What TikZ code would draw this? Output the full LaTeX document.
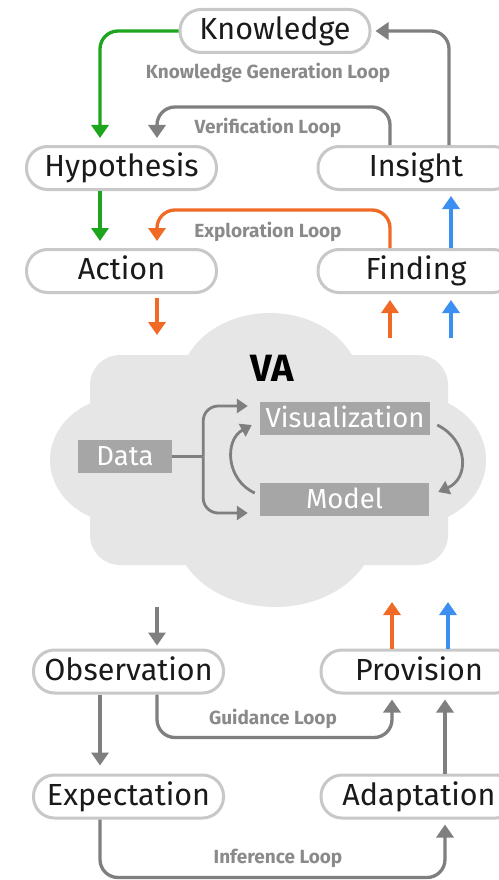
\documentclass[tikz,border=0pt]{standalone}
\usepackage{fontspec}
\setmainfont{Fira Sans}
\usetikzlibrary{arrows.meta,calc}
\definecolor{pillgray}{HTML}{C8C8C8}
\definecolor{linegray}{HTML}{7F7F7F}
\definecolor{labelgray}{HTML}{8A8A8A}
\definecolor{cloudgray}{HTML}{E6E6E6}
\definecolor{boxgray}{HTML}{A6A6A6}
\definecolor{loopgreen}{HTML}{1EA51E}
\definecolor{looporange}{HTML}{F06A25}
\definecolor{loopblue}{HTML}{3B8FF0}
\definecolor{textblack}{HTML}{1A1A1A}
\begin{document}
\begin{tikzpicture}[x=1pt,y=-1pt,
  pill/.style={draw=pillgray, line width=3pt, fill=white, rounded corners=21pt,
    minimum height=43pt, inner sep=0pt, text=textblack,
    font=\fontsize{30.5}{32}\selectfont, text height=21pt, text depth=4pt},
  leftpill/.style={pill, minimum width=190pt},
  rightpill/.style={pill, minimum width=196pt},
  vabox/.style={fill=boxgray, text=white, inner sep=0pt, minimum height=33pt,
    font=\fontsize{27.5}{29}\selectfont, text height=19pt, text depth=1pt},
  arr/.style={line width=3.3pt, rounded corners=18pt,
    -{Triangle[length=13pt,width=17pt]}},
  innerarr/.style={draw=linegray, line width=2.8pt, rounded corners=15pt,
    -{Triangle[length=11pt,width=14pt]}},
  looplabel/.style={text=labelgray, font=\bfseries\fontsize{19}{21}\selectfont}
]
\useasboundingbox (0,0) rectangle (498,880);
\fill[white] (0,0) rectangle (498,880);

% the VA cloud
\begin{scope}[cloudgray]
  \fill[rounded corners=30pt] (90,355) rectangle (448,565);
  \fill (125,460) ellipse [x radius=75pt, y radius=64pt];
  \fill (415,460) ellipse [x radius=71pt, y radius=64pt];
  \fill (270,385) ellipse [x radius=90pt, y radius=72pt];
  \fill (275,530) ellipse [x radius=100pt, y radius=77pt];
\end{scope}
\node[font=\bfseries\fontsize{38}{38}\selectfont, text=black] (va) at (272,368) {VA};

% boxes inside the cloud
\node[vabox, minimum width=94pt] (data) at (125,456.5) {Data};
\node[vabox, minimum width=170pt] (viz) at (345,418.5) {Visualization};
\node[vabox, minimum width=169pt] (model) at (344.5,499) {Model};

\coordinate (br) at ($(data.east)+(31,0)$);
\draw[linegray, line width=2.8pt] (data.east) -- (br);
\draw[innerarr] (br) |- ($(viz.west)+(-12,-12.5)$);
\draw[innerarr] (br) |- ($(model.west)+(-12,14)$);
\draw[innerarr] ($(model.west)+(-5,-6)$) .. controls (226,480) and (224,440) .. ($(viz.west)+(-8,6.5)$);
\draw[innerarr] ($(viz.east)+(7,6.5)$) .. controls (468,440) and (470,478) .. ($(model.east)+(9,-7)$);

% process nodes
\node[pill, minimum width=190pt] (know) at (275,31) {Knowledge};
\node[leftpill] (hyp) at (121.5,168) {Hypothesis};
\node[rightpill] (ins) at (416,168) {Insight};
\node[leftpill] (act) at (121.5,271) {Action};
\node[rightpill] (fin) at (416,271) {Finding};
\node[leftpill] (obs) at (128.5,671.5) {Observation};
\node[rightpill] (prov) at (419,671.5) {Provision};
\node[leftpill] (expc) at (128.5,796.5) {Expectation};
\node[rightpill] (adap) at (419,796.5) {Adaptation};

% loop labels
\node[looplabel] (lkg) at (268,73) {Knowledge Generation Loop};
\node[looplabel] (lver) at (268,128) {Verification Loop};
\node[looplabel] (lexp) at (268,232) {Exploration Loop};
\node[looplabel] (lgui) at (273,719) {Guidance Loop};
\node[looplabel] (linf) at (278,858) {Inference Loop};

% upper connectors
\draw[arr, loopgreen, shorten >=7pt] (know.west) -| ($(hyp.north)+(-21.5,0)$);
\draw[arr, loopgreen, shorten >=7pt] ($(hyp.south)+(-21.5,0)$) -- ($(act.north)+(-21.5,0)$);
\draw[arr, linegray, shorten >=4pt] ($(ins.north)+(33,0)$) |- (know.east);
\draw[arr, linegray, shorten >=7pt] ($(ins.north)+(-26,0)$) -- ++(0,-38) -| ($(hyp.north)+(35.5,0)$);
\draw[arr, looporange, shorten >=7pt] ($(fin.north)+(-26,0)$) -- ++(0,-38) -| ($(act.north)+(35.5,0)$);
\draw[arr, loopblue, shorten >=5pt] ($(fin.north)+(35,0)$) -- ($(ins.south)+(35,0)$);

% between the upper nodes and the cloud
\coordinate (vaOutA) at (390,338);
\coordinate (vaOutB) at (451,338);
\draw[arr, looporange, shorten <=4pt] ($(act.south)+(35.5,0)$) -- ++(0,41);
\draw[arr, looporange, shorten >=6pt] (vaOutA) -- ($(fin.south)+(-26,0)$);
\draw[arr, loopblue, shorten >=6pt] (vaOutB) -- ($(fin.south)+(35,0)$);

% between the cloud and the lower nodes
\coordinate (vaInC) at (157,607);
\coordinate (vaOutC) at (392,602);
\coordinate (vaOutD) at (448,602);
\draw[arr, linegray, shorten >=3pt] (vaInC) -- ($(obs.north)+(28.5,0)$);
\draw[arr, looporange] ($(prov.north)+(-27,0)$) -- (vaOutC);
\draw[arr, loopblue] ($(prov.north)+(29,0)$) -- (vaOutD);

% lower connectors
\draw[arr, linegray, shorten >=5pt] ($(obs.south)+(28.5,0)$) -- ++(0,43) -| ($(prov.south)+(-27,0)$);
\draw[arr, linegray, shorten >=8pt] ($(obs.south)+(-28.5,0)$) -- ($(expc.north)+(-28.5,0)$);
\draw[arr, linegray, shorten >=5pt] ($(adap.north)+(26,0)$) -- ($(prov.south)+(26,0)$);
\draw[arr, linegray, shorten >=5pt] ($(expc.south)+(-28.5,0)$) -- ++(0,58) -| ($(adap.south)+(26,0)$);
\end{tikzpicture}
\end{document}
